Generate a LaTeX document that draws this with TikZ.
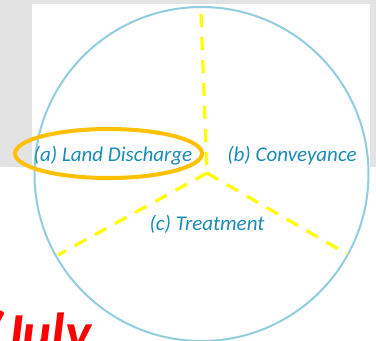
\documentclass[tikz,border=0pt]{standalone}
\usepackage{fontspec}
\setmainfont{Carlito}
\usetikzlibrary{shapes.geometric}
\definecolor{bggray}{RGB}{227,227,227}
\definecolor{ringblue}{RGB}{146,205,222}
\definecolor{labelteal}{RGB}{28,140,182}
\definecolor{hiliteorange}{RGB}{255,192,0}
\definecolor{dashyellow}{RGB}{255,255,0}
\begin{document}
\begin{tikzpicture}[x=1pt,y=-1pt,
		phase/.style={text=labelteal,font=\fontsize{21}{25}\selectfont\itshape,inner sep=0pt},
		spoke/.style={draw=dashyellow,line width=3.2pt,dash pattern=on 13pt off 10pt}]
		\useasboundingbox (0,0) rectangle (376,341);
		\clip (0,0) rectangle (376,341);
		% screenshot backdrop
		\fill[bggray] (0,0) rectangle (376,167);
		\fill[white] (32,4) rectangle (370,167);
		% outer ring
		\node[circle,draw=ringblue,line width=2pt,minimum size=334pt,inner sep=0pt] (ring) at (201.5,174) {};
		% spokes
		\coordinate (hub) at (207,173);
		\coordinate (topend) at (201,14);
		\coordinate (leftend) at (58,255);
		\coordinate (rightend) at (347,254);
		\draw[spoke] (topend) -- (hub);
		\draw[spoke] (hub) -- (leftend);
		\draw[spoke] (hub) -- (rightend);
		% labels
		\node[phase] (land) at (113,156) {(a) Land Discharge};
		\node[phase] (conv) at (292,156) {(b) Conveyance};
		\node[phase] (treat) at (207,224) {(c) Treatment};
		\node[ellipse,draw=hiliteorange,line width=4pt,minimum width=187pt,minimum height=49pt] (hilite) at (108.5,153.5) {};
		% cut-off caption
		\node[anchor=base west,text=red,font=\fontsize{55}{66}\selectfont\bfseries\itshape,inner sep=0pt] (month) at (-13,351) {(July};
\end{tikzpicture}
\end{document}
